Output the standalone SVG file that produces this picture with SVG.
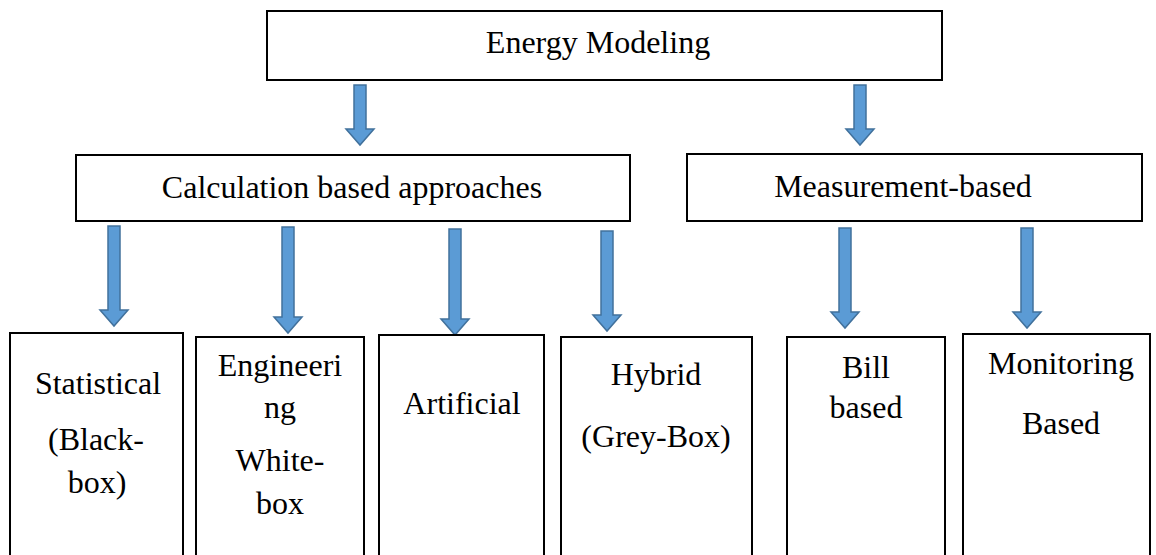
<svg xmlns="http://www.w3.org/2000/svg" width="1156" height="555" viewBox="0 0 1156 555">
<style>
.box{fill:#fff;stroke:#000;stroke-width:2}
.t{font-family:"Liberation Serif","Times New Roman",serif;font-size:32px;fill:#000;text-anchor:middle}
.arr{fill:#5B9BD5;stroke:#41719C;stroke-width:1.5}
</style>
<defs>
<path id="a60" d="M-6,0 H6 V44 H14 L0,60 L-14,44 H-6 Z"/>
<path id="a100" d="M-6,0 H6 V84 H14 L0,100 L-14,84 H-6 Z"/>
<path id="a106" d="M-6,0 H6 V90 H14 L0,106 L-14,90 H-6 Z"/>
</defs>
<rect width="1156" height="555" fill="#fff"/>
<g id="connectors">
<use href="#a60" class="arr" x="360" y="85"/>
<use href="#a60" class="arr" x="860" y="85"/>
<use href="#a100" class="arr" x="114" y="226"/>
<use href="#a106" class="arr" x="288" y="227"/>
<use href="#a106" class="arr" x="455" y="229"/>
<use href="#a100" class="arr" x="607" y="231"/>
<use href="#a100" class="arr" x="845" y="228"/>
<use href="#a100" class="arr" x="1027" y="228"/>
</g>
<g id="energy-modeling">
<rect class="box" x="267" y="11" width="675" height="69"/>
<text class="t" x="598" y="53">Energy Modeling</text>
</g>
<g id="calculation-based">
<rect class="box" x="76" y="155" width="554" height="66"/>
<text class="t" x="352" y="198">Calculation based approaches</text>
</g>
<g id="measurement-based">
<rect class="box" x="687" y="154" width="455" height="67"/>
<text class="t" x="903" y="197">Measurement-based</text>
</g>
<g id="statistical">
<rect class="box" x="10" y="333" width="173" height="240"/>
<text class="t" x="98" y="394">Statistical</text>
<text class="t" x="96" y="450">(Black-</text>
<text class="t" x="97" y="493">box)</text>
</g>
<g id="engineering">
<rect class="box" x="196" y="337" width="168" height="240"/>
<text class="t" x="280" y="376">Engineeri</text>
<text class="t" x="280" y="418">ng</text>
<text class="t" x="280" y="471">White-</text>
<text class="t" x="280" y="514">box</text>
</g>
<g id="artificial">
<rect class="box" x="379" y="335" width="165" height="240"/>
<text class="t" x="462" y="414">Artificial</text>
</g>
<g id="hybrid">
<rect class="box" x="561" y="337" width="191" height="240"/>
<text class="t" x="656" y="385">Hybrid</text>
<text class="t" x="656" y="447">(Grey-Box)</text>
</g>
<g id="bill-based">
<rect class="box" x="787" y="337" width="158" height="240"/>
<text class="t" x="866" y="378">Bill</text>
<text class="t" x="866" y="418">based</text>
</g>
<g id="monitoring-based">
<rect class="box" x="963" y="334" width="187" height="240"/>
<text class="t" x="1061" y="374">Monitoring</text>
<text class="t" x="1061" y="434">Based</text>
</g>
</svg>
